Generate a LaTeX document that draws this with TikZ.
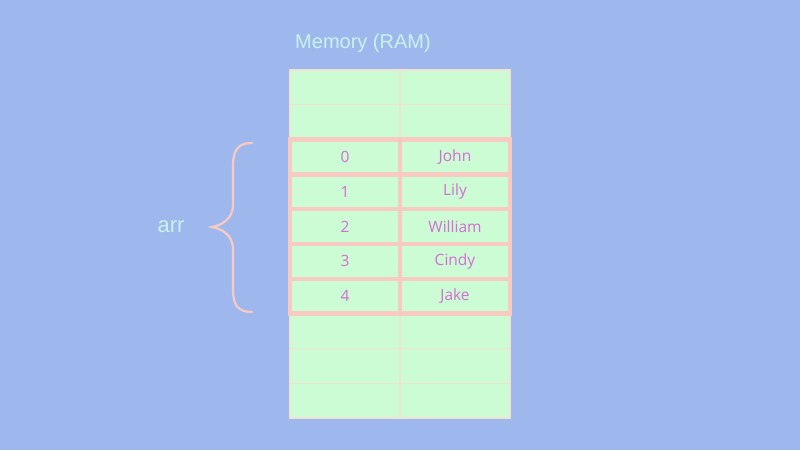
\documentclass[tikz,border=0pt]{standalone}
\usepackage{fontspec}
\setmainfont{Open Sans}
\newfontfamily\arialfont{Liberation Sans}
\definecolor{bg}{RGB}{158,184,238}
\definecolor{cellgreen}{RGB}{204,252,212}
\definecolor{gridline}{RGB}{240,226,208}
\definecolor{hipink}{RGB}{248,202,194}
\definecolor{txtmag}{RGB}{214,108,214}
\definecolor{labcyan}{RGB}{200,242,236}
\begin{document}
\begin{tikzpicture}[x=1pt,y=-1pt,
  cell/.style={rectangle, fill=cellgreen, draw=gridline, line width=1.2pt,
    minimum width=110pt, minimum height=34.8pt, inner sep=0pt, outer sep=0pt,
    text=txtmag, font=\fontsize{15.5}{18}\selectfont},
  hicell/.style={cell, draw=hipink, line width=4.3pt},
  label/.style={text=labcyan, font=\arialfont\fontsize{20}{24}\selectfont, inner sep=0pt}]
\fill[bg] (0,0) rectangle (800,450);
\useasboundingbox (0,0) rectangle (800,450);
% plain rows
\foreach \r in {0,1,7,8,9}{
  \node[cell] (a\r) at (345,{87.4+34.8*\r}) {};
  \node[cell] (b\r) at (455,{87.4+34.8*\r}) {};
}
\draw[gridline, line width=1.2pt] (290,70) rectangle (510,418);
% highlighted rows
\foreach \r/\i/\n in {2/0/John,3/1/Lily,4/2/William,5/3/Cindy,6/4/Jake}{
  \node[hicell] (a\r) at (345,{87.4+34.8*\r}) {\i};
  \node[hicell] (b\r) at (455,{87.4+34.8*\r}) {\n};
}
\node[label] (title) at (363,43) {Memory (RAM)};
\node[label, font=\arialfont\fontsize{22}{26}\selectfont] (arr) at (171,227) {arr};
\draw[hipink, line width=2.2pt, line cap=round]
  (252,143) .. controls (238,143) and (233,150) .. (233,166) -- (233,205)
  .. controls (233,218) and (223,225) .. (212,227)
  .. controls (223,229) and (233,236) .. (233,249) -- (233,290)
  .. controls (233,305) and (238,312) .. (252,312);
\end{tikzpicture}
\end{document}
